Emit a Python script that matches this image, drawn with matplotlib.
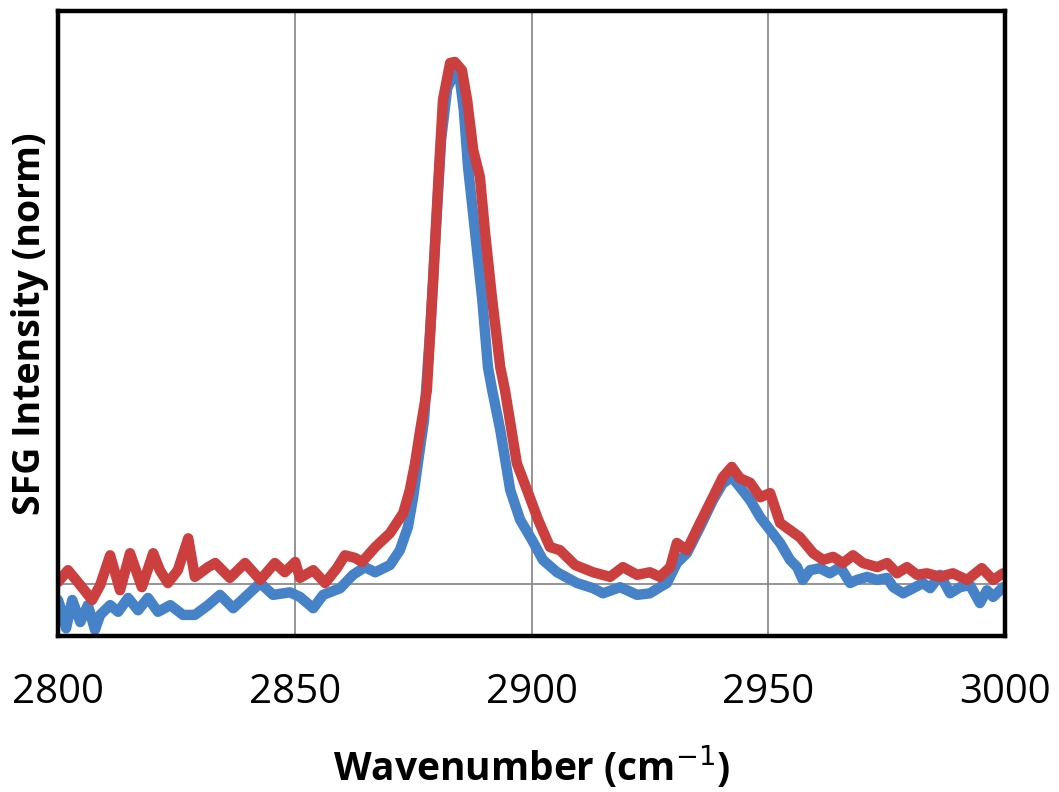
import matplotlib
matplotlib.use("Agg")
import matplotlib.pyplot as plt
import numpy as np

# SFG spectra (wavenumber in cm-1, normalised intensity)
wn_blue = np.array([
    2800.0, 2800.8, 2801.7, 2803.0, 2804.7, 2806.3, 2807.8, 2808.9, 2811.0, 2812.7,
    2814.8, 2816.9, 2819.0, 2821.1, 2823.7, 2826.4, 2828.9, 2831.7, 2834.2, 2837.0,
    2840.6, 2842.7, 2845.4, 2849.0, 2851.1, 2853.9, 2856.0, 2859.6, 2862.3, 2864.8,
    2867.0, 2870.1, 2872.2, 2873.9, 2875.0, 2876.0, 2877.3, 2878.6, 2879.8, 2880.9,
    2882.2, 2883.8, 2884.9, 2885.7, 2886.6, 2888.1, 2889.6, 2890.8, 2891.7, 2893.4,
    2895.5, 2897.6, 2900.1, 2902.4, 2905.4, 2909.6, 2913.0, 2915.1, 2918.7, 2922.3,
    2925.0, 2927.1, 2928.6, 2930.7, 2932.8, 2935.6, 2938.3, 2940.4, 2942.3, 2944.0,
    2946.2, 2948.3, 2950.4, 2952.5, 2954.6, 2956.1, 2957.3, 2958.8, 2960.9, 2963.0,
    2965.2, 2967.3, 2968.7, 2970.9, 2973.0, 2975.1, 2976.4, 2978.5, 2980.6, 2982.7,
    2984.2, 2986.3, 2988.4, 2990.5, 2992.6, 2994.7, 2996.2, 2997.5, 2999.6,
])
int_blue = np.array([
    -0.031, -0.054, -0.086, -0.031, -0.074, -0.041, -0.089, -0.060, -0.041, -0.054,
    -0.027, -0.051, -0.027, -0.054, -0.041, -0.060, -0.060, -0.041, -0.021, -0.047,
    -0.016, 0.002, -0.021, -0.016, -0.025, -0.047, -0.021, -0.008, 0.018, 0.033,
    0.023, 0.037, 0.066, 0.111, 0.169, 0.235, 0.319, 0.494, 0.689, 0.864,
    0.965, 0.996, 0.981, 0.922, 0.811, 0.683, 0.553, 0.422, 0.377, 0.300,
    0.183, 0.125, 0.086, 0.047, 0.023, 0.002, -0.008, -0.018, -0.006, -0.021,
    -0.018, -0.006, 0.002, 0.041, 0.060, 0.111, 0.163, 0.196, 0.208, 0.189,
    0.163, 0.130, 0.105, 0.080, 0.047, 0.033, 0.008, 0.027, 0.031, 0.021,
    0.033, 0.002, 0.008, 0.014, 0.008, 0.012, -0.006, -0.018, -0.008, 0.002,
    -0.008, 0.018, -0.018, -0.006, -0.002, -0.037, -0.012, -0.025, -0.006,
])

wn_red = np.array([
    2800.0, 2802.1, 2804.7, 2807.2, 2808.9, 2811.0, 2813.1, 2815.2, 2817.7, 2820.1,
    2821.5, 2823.2, 2825.3, 2827.5, 2828.9, 2831.7, 2833.2, 2836.3, 2839.5, 2842.7,
    2845.8, 2847.9, 2850.1, 2851.1, 2853.9, 2856.4, 2858.9, 2860.6, 2862.7, 2864.2,
    2867.0, 2870.1, 2872.9, 2874.3, 2875.4, 2876.5, 2877.9, 2879.2, 2880.3, 2881.3,
    2882.8, 2883.8, 2885.3, 2886.4, 2887.7, 2889.1, 2890.2, 2891.7, 2893.4, 2894.4,
    2896.9, 2899.3, 2901.4, 2903.9, 2906.0, 2909.2, 2913.0, 2916.6, 2919.3, 2922.3,
    2925.0, 2927.1, 2929.3, 2930.7, 2932.8, 2935.6, 2938.3, 2940.4, 2942.3, 2944.0,
    2946.2, 2948.3, 2950.4, 2952.5, 2954.6, 2956.7, 2959.5, 2961.6, 2963.7, 2965.8,
    2967.9, 2970.0, 2973.0, 2975.1, 2977.2, 2979.3, 2981.4, 2983.5, 2986.3, 2989.0,
    2992.0, 2995.1, 2997.5, 2999.6,
])
int_red = np.array([
    0.004, 0.027, -0.002, -0.031, -0.002, 0.056, -0.012, 0.060, -0.006, 0.060,
    0.027, 0.002, 0.027, 0.089, 0.014, 0.033, 0.041, 0.012, 0.041, 0.008,
    0.041, 0.023, 0.043, 0.012, 0.027, 0.002, 0.031, 0.056, 0.051, 0.043,
    0.072, 0.099, 0.138, 0.183, 0.235, 0.300, 0.377, 0.586, 0.780, 0.942,
    1.014, 1.016, 1.000, 0.942, 0.844, 0.792, 0.683, 0.553, 0.422, 0.377,
    0.235, 0.177, 0.125, 0.072, 0.066, 0.037, 0.023, 0.014, 0.033, 0.018,
    0.023, 0.014, 0.033, 0.080, 0.066, 0.119, 0.169, 0.208, 0.228, 0.206,
    0.197, 0.169, 0.177, 0.119, 0.105, 0.091, 0.060, 0.047, 0.053, 0.041,
    0.056, 0.041, 0.033, 0.041, 0.021, 0.033, 0.018, 0.021, 0.014, 0.021,
    0.008, 0.031, 0.008, 0.021,
])

x_ticks = [2800, 2850, 2900, 2950, 3000]

fig = plt.figure(figsize=(10.59, 7.92), dpi=100)
ax = fig.add_axes([0.0548, 0.197, 0.8942, 0.789])

ax.plot(wn_blue, int_blue, color="#4682c8", lw=7.5, solid_joinstyle="round",
        solid_capstyle="round", zorder=3)
ax.plot(wn_red, int_red, color="#cc3f3f", lw=7.5, solid_joinstyle="round",
        solid_capstyle="round", zorder=4)

ax.set_xlim(2800, 3000)
ax.set_ylim(-0.101, 1.115)
ax.set_xticks(x_ticks)
ax.set_xticklabels([str(t) for t in x_ticks], fontsize=29, family="Open Sans")
ax.set_yticks([0])
ax.set_yticklabels([])
ax.tick_params(length=0, pad=26)

ax.grid(True, color="#8c8c8c", lw=1.3, zorder=1)
ax.set_axisbelow(True)

for sp in ax.spines.values():
    sp.set_linewidth(3.2)
    sp.set_color("black")
    sp.set_zorder(5)

ax.set_xlabel("Wavenumber (cm$^{\u22121}$)", fontsize=28, fontweight="bold",
              family="Open Sans", labelpad=22)
ax.set_ylabel("SFG Intensity (norm)", fontsize=27, fontweight="bold",
              family="Open Sans")
ax.yaxis.set_label_coords(-0.01, 0.5)

fig.savefig("out.png", dpi=100)
